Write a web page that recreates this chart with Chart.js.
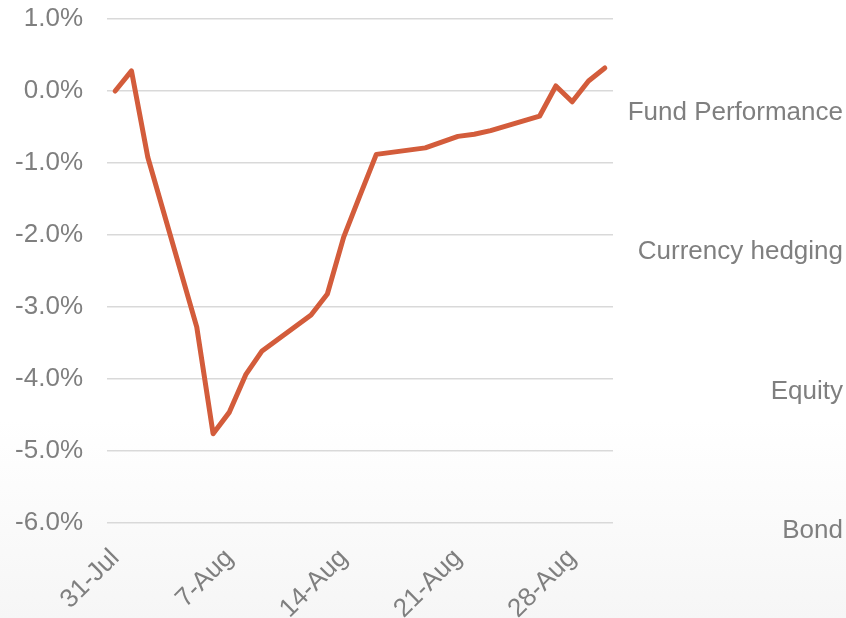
<!DOCTYPE html>
<html>
<head>
<meta charset="utf-8">
<script src="https://cdn.jsdelivr.net/npm/chart.js@4/dist/chart.umd.min.js"></script>
<style>
  html, body { margin: 0; padding: 0; }
  body {
    width: 846px; height: 618px; overflow: hidden;
    background: linear-gradient(to bottom, #ffffff 0%, #ffffff 68%, #f6f6f6 100%);
  }
  canvas { display: block; }
</style>
</head>
<body>
<canvas id="perfChart" width="846" height="618"></canvas>
<script>
// Daily calendar dates, weekends left empty (null) in the series
const DATES = [
  '31-Jul', '1-Aug', '2-Aug', '3-Aug', '4-Aug', '5-Aug', '6-Aug', '7-Aug',
  '8-Aug', '9-Aug', '10-Aug', '11-Aug', '12-Aug', '13-Aug', '14-Aug', '15-Aug',
  '16-Aug', '17-Aug', '18-Aug', '19-Aug', '20-Aug', '21-Aug', '22-Aug', '23-Aug',
  '24-Aug', '25-Aug', '26-Aug', '27-Aug', '28-Aug', '29-Aug', '30-Aug',
];

// Fund performance, % since 31-Jul
const FUND_PERF = [
  0.00, 0.28, -0.92, null, null, -3.28, -4.76, -4.46,
  -3.94, -3.61, null, null, -3.11, -2.82, -2.03, -1.45,
  -0.88, null, null, -0.79, -0.71, -0.63, -0.60, -0.55,
  null, null, -0.35, 0.07, -0.15, 0.14, 0.32,
];

const TICK_LABELS = ['31-Jul', '7-Aug', '14-Aug', '21-Aug', '28-Aug'];
const Y_TICKS = [1, 0, -1, -2, -3, -4, -5, -6];
const SERIES_NAMES = ['Fund Performance', 'Currency hedging', 'Equity', 'Bond'];

const LINE_COLOR = '#d35c3b';
const TEXT_COLOR = '#7f7f7f';
const FONT = { family: "'Liberation Sans', Arial, sans-serif", size: 26 };

// Series names stacked down the right-hand side
const seriesLabels = {
  id: 'seriesLabels',
  afterDraw(chart) {
    const { ctx } = chart;
    ctx.save();
    ctx.font = `${FONT.size}px ${FONT.family}`;
    ctx.fillStyle = TEXT_COLOR;
    ctx.textAlign = 'right';
    ctx.textBaseline = 'middle';
    SERIES_NAMES.forEach((name, i) => {
      ctx.fillText(name, chart.width - 3, 113 + i * 139.3);
    });
    ctx.restore();
  }
};

new Chart(document.getElementById('perfChart'), {
  type: 'line',
  data: {
    labels: DATES,
    datasets: [{
      label: SERIES_NAMES[0],
      data: FUND_PERF,
      borderColor: LINE_COLOR,
      borderWidth: 5,
      borderJoinStyle: 'round',
      borderCapStyle: 'round',
      pointRadius: 0,
      tension: 0,
      spanGaps: true,
      fill: false,
    }]
  },
  options: {
    responsive: false,
    animation: false,
    devicePixelRatio: 1,
    layout: { padding: { top: 19, right: 233, left: 0, bottom: 0 } },
    plugins: {
      legend: { display: false },
      tooltip: { enabled: false },
    },
    scales: {
      x: {
        offset: true,
        grid: { display: false },
        border: { display: false },
        afterFit: s => { s.paddingLeft = 0; s.paddingRight = 0; s.height = 95; },
        ticks: {
          autoSkip: false,
          minRotation: 45,
          maxRotation: 45,
          color: TEXT_COLOR,
          font: FONT,
          padding: 12,
          callback: function (v) {
            const lbl = this.getLabelForValue(v);
            return TICK_LABELS.includes(lbl) ? lbl : '';
          },
        },
      },
      y: {
        min: Math.min(...Y_TICKS),
        max: Math.max(...Y_TICKS),
        border: { display: false },
        grid: { color: '#d9d9d9', lineWidth: 1.5, drawTicks: false },
        afterFit: s => { s.width = 107; s.paddingTop = 0; s.paddingBottom = 0; },
        ticks: {
          stepSize: 1,
          color: TEXT_COLOR,
          font: FONT,
          padding: 24,
          callback: v => v.toFixed(1) + '%',
        },
      },
    },
  },
  plugins: [seriesLabels],
});
</script>
</body>
</html>
